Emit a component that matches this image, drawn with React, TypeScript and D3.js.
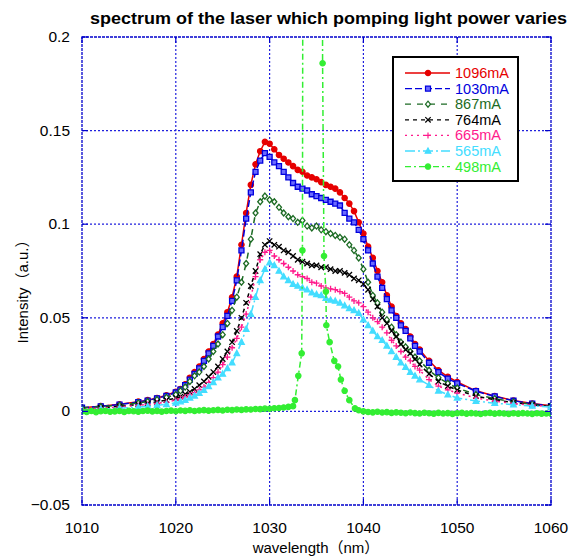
import React from 'react';
import * as d3 from 'd3';

// shared wavelength grid (nm) for the broad spectra
const wavelength = [
  1010, 1012, 1014, 1016, 1017, 1018, 1019,
  1020, 1020.5, 1021, 1021.5, 1022, 1022.5, 1023, 1023.5, 1024, 1024.5,
  1025, 1025.5, 1026, 1026.5, 1027, 1027.5, 1028, 1028.5, 1029, 1029.5,
  1030, 1030.5, 1031, 1031.5, 1032, 1032.5, 1033, 1033.5, 1034, 1034.5,
  1035, 1035.5, 1036, 1036.5, 1037, 1037.5, 1038, 1038.5, 1039, 1039.5,
  1040, 1040.5, 1041, 1041.5, 1042, 1042.5, 1043, 1043.5, 1044, 1044.5,
  1045, 1045.5, 1046,
  1047, 1048, 1049, 1050, 1052, 1054, 1056, 1058, 1060,
];

const s1096 = [
  0.002, 0.0028, 0.0038, 0.0052, 0.006, 0.0072, 0.0086,
  0.0105, 0.012, 0.0145, 0.018, 0.021, 0.024, 0.028, 0.032, 0.036, 0.041,
  0.047, 0.053, 0.061, 0.072, 0.089, 0.106, 0.121, 0.132, 0.139, 0.144,
  0.143, 0.14, 0.137, 0.135, 0.133, 0.131, 0.129, 0.128, 0.126, 0.125,
  0.124, 0.1225, 0.121, 0.12, 0.119, 0.117, 0.114, 0.111, 0.107, 0.101,
  0.095, 0.088, 0.082, 0.075, 0.069, 0.062, 0.056, 0.051, 0.047, 0.044,
  0.04, 0.036, 0.033,
  0.027, 0.022, 0.0185, 0.0157, 0.011, 0.0082, 0.0058, 0.0042, 0.003,
];

const s1030 = [
  0.002, 0.0027, 0.0036, 0.005, 0.0058, 0.007, 0.0083,
  0.0101, 0.0116, 0.014, 0.017, 0.02, 0.023, 0.027, 0.031, 0.035, 0.04,
  0.045, 0.051, 0.059, 0.07, 0.086, 0.103, 0.117, 0.128, 0.134, 0.138,
  0.136, 0.133, 0.131, 0.128, 0.125, 0.122, 0.12, 0.119, 0.118, 0.116,
  0.115, 0.114, 0.113, 0.112, 0.111, 0.11, 0.106, 0.103, 0.101, 0.097,
  0.092, 0.086, 0.079, 0.072, 0.066, 0.06, 0.054, 0.05, 0.046, 0.043,
  0.039, 0.035, 0.032,
  0.026, 0.021, 0.0175, 0.015, 0.0108, 0.008, 0.0057, 0.0041, 0.0028,
];

const s867 = [
  0.0018, 0.0025, 0.0033, 0.0045, 0.0053, 0.0063, 0.0075,
  0.009, 0.011, 0.013, 0.016, 0.019, 0.021, 0.024, 0.028, 0.032, 0.036,
  0.041, 0.047, 0.054, 0.061, 0.069, 0.079, 0.092, 0.106, 0.112, 0.115,
  0.113, 0.112, 0.109, 0.106, 0.104, 0.103, 0.101, 0.102, 0.099, 0.098,
  0.099, 0.097, 0.096, 0.095, 0.094, 0.093, 0.092, 0.089, 0.086, 0.082,
  0.076, 0.069, 0.062, 0.058, 0.053, 0.049, 0.045, 0.041, 0.037, 0.0345,
  0.032, 0.029, 0.027,
  0.022, 0.018, 0.015, 0.0125, 0.009, 0.0068, 0.005, 0.0037, 0.0027,
];

const s764 = [
  0.0005, 0.0018, 0.0027, 0.0037, 0.0043, 0.0051, 0.006,
  0.0071, 0.0079, 0.0092, 0.0104, 0.012, 0.014, 0.016, 0.0185, 0.021, 0.024,
  0.028, 0.032, 0.037, 0.043, 0.05, 0.058, 0.067, 0.075, 0.084, 0.089,
  0.091, 0.089, 0.088, 0.086, 0.085, 0.083, 0.081, 0.08, 0.079, 0.078,
  0.078, 0.077, 0.077, 0.076, 0.075, 0.075, 0.074, 0.073, 0.071, 0.07,
  0.068, 0.065, 0.06, 0.056, 0.05, 0.047, 0.043, 0.04, 0.036, 0.033,
  0.031, 0.028, 0.025,
  0.02, 0.016, 0.0135, 0.0114, 0.0082, 0.0062, 0.0047, 0.0035, 0.0026,
];

const s665 = [
  0.0012, 0.0017, 0.0024, 0.0032, 0.0037, 0.0043, 0.005,
  0.006, 0.0068, 0.0077, 0.0088, 0.01, 0.0115, 0.013, 0.0155, 0.018, 0.021,
  0.025, 0.029, 0.034, 0.039, 0.045, 0.052, 0.061, 0.072, 0.081, 0.085,
  0.086, 0.083, 0.081, 0.079, 0.077, 0.075, 0.073, 0.072, 0.071, 0.069,
  0.0685, 0.067, 0.066, 0.0655, 0.065, 0.064, 0.063, 0.061, 0.059, 0.058,
  0.056, 0.053, 0.05, 0.048, 0.045, 0.042, 0.038, 0.035, 0.032, 0.029,
  0.027, 0.024, 0.022,
  0.017, 0.0135, 0.0115, 0.0098, 0.0072, 0.0055, 0.0042, 0.0033, 0.0025,
];

const s565 = [
  0.0008, 0.0012, 0.0017, 0.0023, 0.0027, 0.0032, 0.0038,
  0.0046, 0.0052, 0.006, 0.0072, 0.0083, 0.0097, 0.0113, 0.0133, 0.0155, 0.018,
  0.02, 0.023, 0.026, 0.031, 0.037, 0.044, 0.052, 0.061, 0.07, 0.076,
  0.0795, 0.078, 0.075, 0.072, 0.07, 0.068, 0.067, 0.066, 0.065, 0.0635,
  0.0625, 0.062, 0.0605, 0.0595, 0.059, 0.058, 0.0565, 0.055, 0.054, 0.0525,
  0.049, 0.046, 0.043, 0.04, 0.038, 0.035, 0.032, 0.029, 0.026, 0.0237,
  0.021, 0.019, 0.017,
  0.014, 0.011, 0.009, 0.0072, 0.0055, 0.0044, 0.0036, 0.0029, 0.0024,
];

// narrow laser line at 498 mA (own wavelength grid)
const wavelength498 = [
  1010, 1010.5, 1011, 1011.5, 1012, 1012.5, 1013, 1013.5, 1014, 1014.5,
  1015, 1015.5, 1016, 1016.5, 1017, 1017.5, 1018, 1018.5, 1019, 1019.5,
  1020, 1020.5, 1021, 1021.5, 1022, 1022.5, 1023, 1023.5, 1024, 1024.5,
  1025, 1025.5, 1026, 1026.5, 1027, 1027.5, 1028, 1028.5, 1029, 1029.5,
  1030, 1030.5, 1031, 1031.5, 1032,
  1032.5, 1032.7, 1033.06, 1033.42, 1033.5, 1033.6,
  1035.55, 1035.65, 1035.8, 1036, 1036.05, 1036.4, 1036.9, 1037.3, 1037.6,
  1038, 1038.5, 1039.1,
  1039.5, 1040, 1040.5, 1041, 1041.5, 1042, 1042.5, 1043, 1043.5, 1044,
  1044.5, 1045, 1045.5, 1046, 1046.5, 1047, 1047.5, 1048, 1048.5, 1049,
  1049.5, 1050, 1050.5, 1051, 1051.5, 1052, 1052.5, 1053, 1053.5, 1054,
  1054.5, 1055, 1055.5, 1056, 1056.5, 1057, 1057.5, 1058, 1058.5, 1059,
  1059.5, 1060,
];
const s498 = [
  0.0, -0.0003, 0.0002, -0.0004, 0.0001, 0.0003, -0.0002, 0.0, 0.0002, -0.0003,
  0.0003, 0.0001, -0.0002, 0.0002, 0.0004, 0.0, 0.0003, -0.0001, 0.0002, 0.0004,
  0.0001, 0.0005, 0.0003, 0.0006, 0.0002, 0.0005, 0.0007, 0.0004, 0.0006, 0.0008,
  0.0005, 0.0009, 0.0007, 0.001, 0.0008, 0.0011, 0.001, 0.0013, 0.0012, 0.0015,
  0.0014, 0.0017, 0.0018, 0.0021, 0.0024,
  0.0028, 0.006, 0.019, 0.031, 0.086, 0.45,
  0.45, 0.186, 0.083, 0.064, 0.046, 0.037, 0.027, 0.024, 0.017,
  0.011, 0.006, 0.0016,
  0.0006, 0.0, -0.0003, -0.0005, -0.0002, -0.0006, -0.0004, -0.0008, -0.0005, -0.0007,
  -0.001, -0.0006, -0.0009, -0.0011, -0.0007, -0.001, -0.0012, -0.0008, -0.0011, -0.0009,
  -0.0013, -0.001, -0.0008, -0.0012, -0.0009, -0.0011, -0.0014, -0.001, -0.0008, -0.0012,
  -0.0009, -0.0011, -0.0013, -0.001, -0.0012, -0.0009, -0.0011, -0.0013, -0.001, -0.0012,
  -0.0011, -0.0012,
];

const seriesNames = ['1096mA', '1030mA', '867mA', '764mA', '665mA', '565mA', '498mA'];
const xTicks = [1010, 1020, 1030, 1040, 1050, 1060];
const yTicks = [-0.05, 0, 0.05, 0.1, 0.15, 0.2];
const yTickLabels = ['−0.05', '0', '0.05', '0.1', '0.15', '0.2'];
const titleText = 'spectrum of the laser which pomping light power varies';
const xLabel = 'wavelength（nm）';
const yLabel = 'Intensity（a.u.）';

type Style = { color: string; dash: string; marker: string; fill: string };
const styles: Style[] = [
  { color: '#e60000', dash: 'none', marker: 'circle', fill: '#e60000' },
  { color: '#0000dd', dash: '7,3', marker: 'square', fill: '#6a6aff' },
  { color: '#1c6b24', dash: '6,6', marker: 'diamond', fill: '#ffffff' },
  { color: '#000000', dash: '4,4', marker: 'x', fill: 'none' },
  { color: '#ff1a8c', dash: '2,4', marker: 'plus', fill: 'none' },
  { color: '#44ddff', dash: '10,3,2,3', marker: 'triangle', fill: '#44ddff' },
  { color: '#33ee33', dash: '6,3,2,3', marker: 'circle', fill: '#33ee33' },
];

const W = 571;
const H = 556;
const L = 82, R = 551, T = 37, B = 505;

function markerPath(kind: string): string {
  switch (kind) {
    case 'circle': return d3.symbol(d3.symbolCircle, 22)() as string;
    case 'square': return 'M-2.5,-2.5H2.5V2.5H-2.5Z';
    case 'diamond': return 'M0,-3L2.5,0L0,3L-2.5,0Z';
    case 'x': return 'M-2.7,-2.7L2.7,2.7M-2.7,2.7L2.7,-2.7';
    case 'plus': return 'M-3,0H3M0,-3V3';
    case 'triangle': return 'M0,-3L2.8,2.2L-2.8,2.2Z';
    default: return '';
  }
}

export default function App() {
  const x = d3.scaleLinear().domain([1010, 1060]).range([L, R]);
  const y = d3.scaleLinear().domain([-0.05, 0.2]).range([B, T]);
  const line = d3.line<[number, number]>().x(d => x(d[0])).y(d => y(d[1]));

  const data: [number, number][][] = [
    s1096, s1030, s867, s764, s665, s565,
  ].map(s => s.map((v, i) => [wavelength[i], v] as [number, number]));
  data.push(s498.map((v, i) => [wavelength498[i], v] as [number, number]));

  const font = '"Liberation Sans", Arial, "Noto Sans CJK JP", sans-serif';
  const gridColor = '#1f1fdd';

  return (
    <svg width={W} height={H} style={{ position: 'absolute', left: 0, top: 0, background: '#fff' }}
      fontFamily={font}>
      <defs>
        <clipPath id="plotclip">
          <rect x={L} y={T} width={R - L} height={B - T} />
        </clipPath>
      </defs>
      <rect x={0} y={0} width={W} height={H} fill="#fff" />
      {/* grid */}
      {xTicks.slice(1, -1).map(t => (
        <line key={'gx' + t} x1={x(t)} x2={x(t)} y1={T} y2={B} stroke={gridColor}
          strokeWidth={1.2} strokeDasharray="2,2" />
      ))}
      {yTicks.slice(1, -1).map(t => (
        <line key={'gy' + t} x1={L} x2={R} y1={y(t)} y2={y(t)} stroke={gridColor}
          strokeWidth={1.2} strokeDasharray="2,2" />
      ))}
      {/* series */}
      <g clipPath="url(#plotclip)">
        {data.map((d, i) => (
          <g key={'s' + i}>
            <path d={line(d) as string} fill="none" stroke={styles[i].color}
              strokeWidth={1.5} strokeDasharray={styles[i].dash} />
            {d.map((p, j) => (
              <path key={j} d={markerPath(styles[i].marker)}
                transform={`translate(${x(p[0])},${y(p[1])})`}
                fill={styles[i].fill} stroke={styles[i].color} strokeWidth={1.3} />
            ))}
          </g>
        ))}
      </g>
      {/* frame */}
      <rect x={L} y={T} width={R - L} height={B - T} fill="none" stroke="#0000cc"
        strokeWidth={1.3} strokeDasharray="3,1" />
      {/* ticks */}
      {yTicks.map((t, k) => (
        <g key={'ty' + t}>
          <line x1={L} x2={L + 6} y1={y(t)} y2={y(t)} stroke="#0000cc" strokeWidth={1.2} />
          <line x1={R - 6} x2={R} y1={y(t)} y2={y(t)} stroke="#0000cc" strokeWidth={1.2} />
          <text x={70} y={y(t) + 5} textAnchor="end" fontSize={15.5} fill="#000">
            {yTickLabels[k]}
          </text>
        </g>
      ))}
      {xTicks.map(t => (
        <g key={'tx' + t}>
          <line x1={x(t)} x2={x(t)} y1={B} y2={B - 6} stroke="#0000cc" strokeWidth={1.2} />
          <line x1={x(t)} x2={x(t)} y1={T} y2={T + 6} stroke="#0000cc" strokeWidth={1.2} />
          <text x={x(t)} y={533} textAnchor="middle" fontSize={15.5} fill="#000">{t}</text>
        </g>
      ))}
      {/* titles */}
      <text x={328.5} y={24} textAnchor="middle" fontSize={17} fontWeight="bold" fill="#000"
        textLength={477} lengthAdjust="spacingAndGlyphs">
        {titleText}
      </text>
      <text x={316} y={553} textAnchor="middle" fontSize={15} fill="#000">{xLabel}</text>
      <text transform={`translate(28,288) rotate(-90)`} textAnchor="middle" fontSize={15} fill="#000">
        {yLabel}
      </text>
      {/* legend */}
      <rect x={393} y={57} width={125} height={124} fill="#fff" stroke="#000" strokeWidth={2} />
      {seriesNames.map((name, i) => {
        const ly = 73 + i * 15.6;
        return (
          <g key={'lg' + i}>
            <line x1={405} x2={450} y1={ly} y2={ly} stroke={styles[i].color} strokeWidth={1.3}
              strokeDasharray={styles[i].dash} />
            <path d={markerPath(styles[i].marker)} transform={`translate(428,${ly})`}
              fill={styles[i].fill} stroke={styles[i].color} strokeWidth={1.2} />
            <text x={455} y={ly + 5} fontSize={14.5} fill={styles[i].color}>{name}</text>
          </g>
        );
      })}
    </svg>
  );
}
